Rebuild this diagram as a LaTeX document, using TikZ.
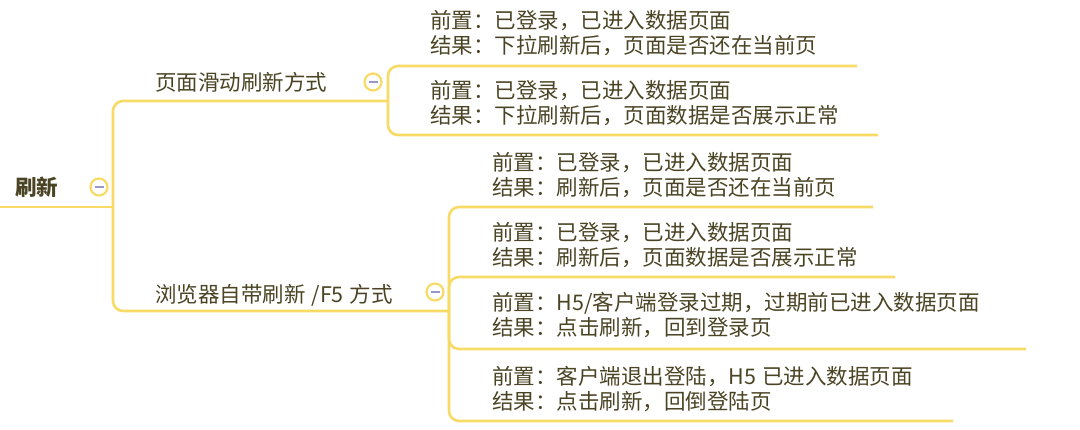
\documentclass[tikz,border=0pt]{standalone}
\usepackage{fontspec}
\setmainfont{Noto Sans CJK SC}
\definecolor{lncol}{RGB}{247,219,102}
\definecolor{txtcol}{RGB}{74,68,36}
\definecolor{mincol}{RGB}{150,152,200}
\tikzset{
  x=1pt, y=-1pt,
  ln/.style={draw=lncol, line width=2.6pt, rounded corners=10pt},
  title/.style={anchor=west, inner sep=0pt, text=txtcol, font=\fontsize{21.5}{25}\selectfont},
  leaf/.style={anchor=west, inner sep=0pt, text=txtcol, align=left, font=\fontsize{21.5}{25}\selectfont},
  tog/.style={circle, draw=lncol, fill=white, line width=2.2pt, minimum size=17pt, inner sep=0pt,
    path picture={\draw[mincol, line width=2pt] ([xshift=-4.5pt]path picture bounding box.center) -- ([xshift=4.5pt]path picture bounding box.center);}}
}
\begin{document}
\begin{tikzpicture}
\useasboundingbox (0,0) rectangle (1080,429);
% root
\node[title] (root) at (15,187) {\bfseries 刷新};
\coordinate (rs) at (0,207);
\coordinate (rk) at (113,207);
\draw[ln] (rs) -- (rk);
% branch A
\node[title] (ta) at (155,82) {页面滑动刷新方式};
\coordinate (ae) at (388,101);
\draw[ln] (rk) |- (ae);
\coordinate (a1e) at (857,66);
\coordinate (a2e) at (878,135);
\draw[ln] (ae) |- (a1e);
\draw[ln] (ae) |- (a2e);
\node[leaf] (a1) at (430,33) {前置：已登录，已进入数据页面\\结果：下拉刷新后，页面是否还在当前页};
\node[leaf] (a2) at (430,103) {前置：已登录，已进入数据页面\\结果：下拉刷新后，页面数据是否展示正常};
% branch B
\node[title] (tb) at (155,295) {浏览器自带刷新\hspace{6pt}/F5\hspace{6pt}方式};
\coordinate (be) at (449,311);
\draw[ln] (rk) |- (be);
\coordinate (b1e) at (873,207);
\coordinate (b2e) at (895,277);
\coordinate (b3e) at (1026,349);
\coordinate (b4e) at (953,421);
\draw[ln] (be) |- (b1e);
\draw[ln] (be) |- (b2e);
\draw[ln] (be) |- (b3e);
\draw[ln] (be) |- (b4e);
\node[leaf] (b1) at (492,175) {前置：已登录，已进入数据页面\\结果：刷新后，页面是否还在当前页};
\node[leaf] (b2) at (492,245) {前置：已登录，已进入数据页面\\结果：刷新后，页面数据是否展示正常};
\node[leaf] (b3) at (492,315) {前置：H5/客户端登录过期，过期前已进入数据页面\\结果：点击刷新，回到登录页};
\node[leaf] (b4) at (492,389) {前置：客户端退出登陆，H5\hspace{6pt}已进入数据页面\\结果：点击刷新，回倒登陆页};
% toggles
\node[tog] (rt) at (99,187) {};
\node[tog] (at) at (373,82) {};
\node[tog] (bt) at (435,292) {};
\end{tikzpicture}
\end{document}
